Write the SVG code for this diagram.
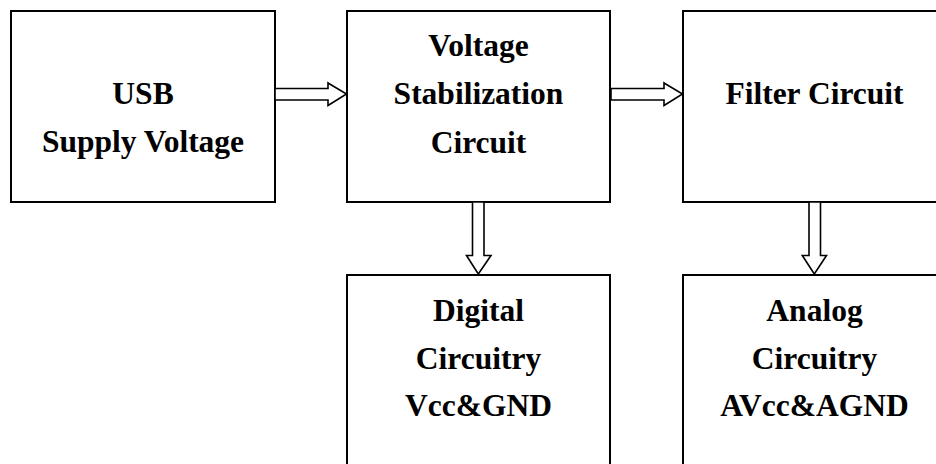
<svg xmlns="http://www.w3.org/2000/svg" width="936" height="464" viewBox="0 0 936 464">
<style>
.box{fill:#fff;stroke:#000;stroke-width:2}
.arr{fill:#fff;stroke:#000;stroke-width:1.6;stroke-linejoin:miter}
.t{font-family:"Liberation Serif","Times New Roman",serif;font-weight:bold;font-size:31.5px;text-anchor:middle;fill:#000}
</style>
<rect width="936" height="464" fill="#fff"/>
<g id="usb">
<rect class="box" x="11" y="11" width="264" height="191"/>
<text class="t" x="143" y="103.5">USB</text>
<text class="t" x="143" y="151.5">Supply Voltage</text>
</g>
<g id="stab">
<rect class="box" x="347" y="11" width="263" height="191"/>
<text class="t" x="478.5" y="56">Voltage</text>
<text class="t" x="478.5" y="104">Stabilization</text>
<text class="t" x="478.5" y="152.5">Circuit</text>
</g>
<g id="filter">
<rect class="box" x="683" y="11" width="265" height="191"/>
<text class="t" x="814.5" y="104">Filter Circuit</text>
</g>
<g id="digital">
<rect class="box" x="347" y="275" width="263" height="200"/>
<text class="t" x="478.5" y="321">Digital</text>
<text class="t" x="478.5" y="368.5">Circuitry</text>
<text class="t" x="478.5" y="416">Vcc&amp;GND</text>
</g>
<g id="analog">
<rect class="box" x="683" y="275" width="265" height="200"/>
<text class="t" x="814.5" y="320.5">Analog</text>
<text class="t" x="814.5" y="368.5">Circuitry</text>
<text class="t" x="814.5" y="416">AVcc&amp;AGND</text>
</g>
<g id="connectors">
<polygon class="arr" points="275,88.5 328,88.5 328,83 346.5,94 328,105.5 328,100 275,100"/>
<polygon class="arr" points="611,88.5 664,88.5 664,83 682.5,94 664,105.5 664,100 611,100"/>
<polygon class="arr" points="472.5,202 484,202 484,255.5 491,255.5 478.3,274 466.5,255.5 472.5,255.5"/>
<polygon class="arr" points="809,202 820.5,202 820.5,255.5 826.5,255.5 814.3,274 802.3,255.5 809,255.5"/>
</g>
</svg>
